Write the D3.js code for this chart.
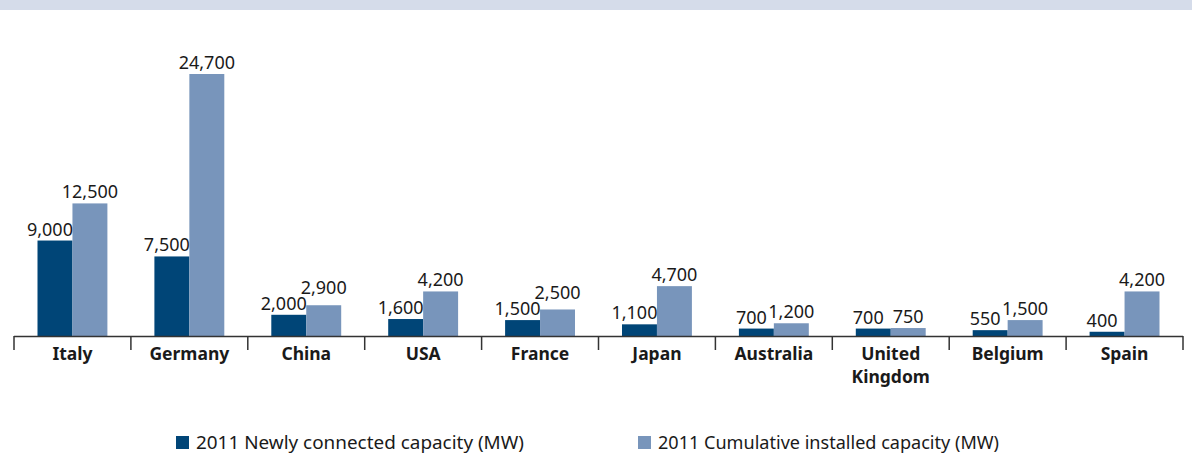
<!DOCTYPE html>
<html><head><meta charset="utf-8">
<script src="https://cdn.jsdelivr.net/npm/d3@7"></script>
<style>body{margin:0;background:#fff}svg{display:block;font-family:"Noto Sans",sans-serif}</style>
</head><body><svg id="c" width="1192" height="455"></svg>
<script>
const categories = ["Italy","Germany","China","USA","France","Japan","Australia","United Kingdom","Belgium","Spain"];
const newlyConnected = [9000,7500,2000,1600,1500,1100,700,700,550,400];
const cumulative = [12500,24700,2900,4200,2500,4700,1200,750,1500,4200];
const seriesNames = ["2011 Newly connected capacity (MW)","2011 Cumulative installed capacity (MW)"];
const colors = ["#004577","#7895bb"];

const svg = d3.select("#c");
svg.append("rect").attr("x",0).attr("y",0).attr("width",1192).attr("height",10).attr("fill","#d5dcea");

const x0 = d3.scaleBand().domain(categories).range([14,1183]).padding(0);
const x1 = d3.scaleBand().domain([0,1]).range([23.5, x0.bandwidth()-23.5]).padding(0);
const y = d3.scaleLinear().domain([0,24700]).range([336,74]);

const data = categories.map((c,i)=>({c, v:[newlyConnected[i],cumulative[i]]}));
const g = svg.append("g");
const groups = g.selectAll("g.grp").data(data).join("g").attr("transform",d=>`translate(${x0(d.c)},0)`);
groups.selectAll("rect").data(d=>d.v.map((v,k)=>({v,k}))).join("rect")
  .attr("x",d=>x1(d.k)).attr("width",x1.bandwidth())
  .attr("y",d=>y(d.v)).attr("height",d=>y(0)-y(d.v)).attr("fill",d=>colors[d.k]);
const fmt = d3.format(",");
groups.each(function(d){
  const grp = d3.select(this);
  const cx = [x1(0)+x1.bandwidth()/2-5, x1(1)+x1.bandwidth()/2];
  const t0 = grp.append("text").attr("x",cx[0]).attr("y",y(d.v[0])-5)
    .attr("text-anchor","middle").attr("font-size",18).attr("fill","#1a1a1a").text(fmt(d.v[0]));
  const t1 = grp.append("text").attr("x",cx[1]).attr("text-anchor","middle")
    .attr("font-size",18).attr("fill","#1a1a1a").text(fmt(d.v[1]));
  const w0 = t0.node().getComputedTextLength(), w1 = t1.node().getComputedTextLength();
  let by = y(d.v[1])-5;
  const b0 = y(d.v[0])-5;
  const hOverlap = (cx[0]+w0/2) > (cx[1]-w1/2)+1;
  if (hOverlap && by > b0-16) by = b0-16;
  t1.attr("y",by);
});

// axis
const ax = svg.append("g");
ax.append("line").attr("x1",14).attr("x2",1183).attr("y1",336.5).attr("y2",336.5).attr("stroke","#333").attr("stroke-width",1.5);
const ticks = categories.map(c=>x0(c)).concat([x0.range()[1]]);
ax.selectAll("line.t").data(ticks).join("line").attr("class","t")
  .attr("x1",d=>d).attr("x2",d=>d).attr("y1",336).attr("y2",350).attr("stroke","#333").attr("stroke-width",1.5);
ax.selectAll("text.cat").data(categories).join("text").attr("class","cat")
  .attr("x",d=>x0(d)+x0.bandwidth()/2).attr("y",360)
  .attr("text-anchor","middle").attr("font-size",17.5).attr("font-weight","bold").attr("fill","#1a1a1a")
  .each(function(d){
    const words = d==="United Kingdom" ? ["United","Kingdom"] : [d];
    d3.select(this).selectAll("tspan").data(words).join("tspan")
      .attr("x",x0(d)+x0.bandwidth()/2).attr("dy",(w,i)=>i===0?0:23).text(w=>w);
  });

// legend
const legX = [176,638];
const leg = svg.selectAll("g.leg").data(seriesNames).join("g").attr("class","leg")
  .attr("transform",(d,i)=>`translate(${legX[i]},436)`);
leg.append("rect").attr("width",13).attr("height",13).attr("fill",(d,i)=>colors[i]);
leg.append("text").attr("x",20).attr("y",13).attr("font-size",18.5).attr("fill","#1a1a1a")
  .attr("textLength",(d,i)=>i===0?328:341).attr("lengthAdjust","spacingAndGlyphs").text(d=>d);
</script></body></html>
